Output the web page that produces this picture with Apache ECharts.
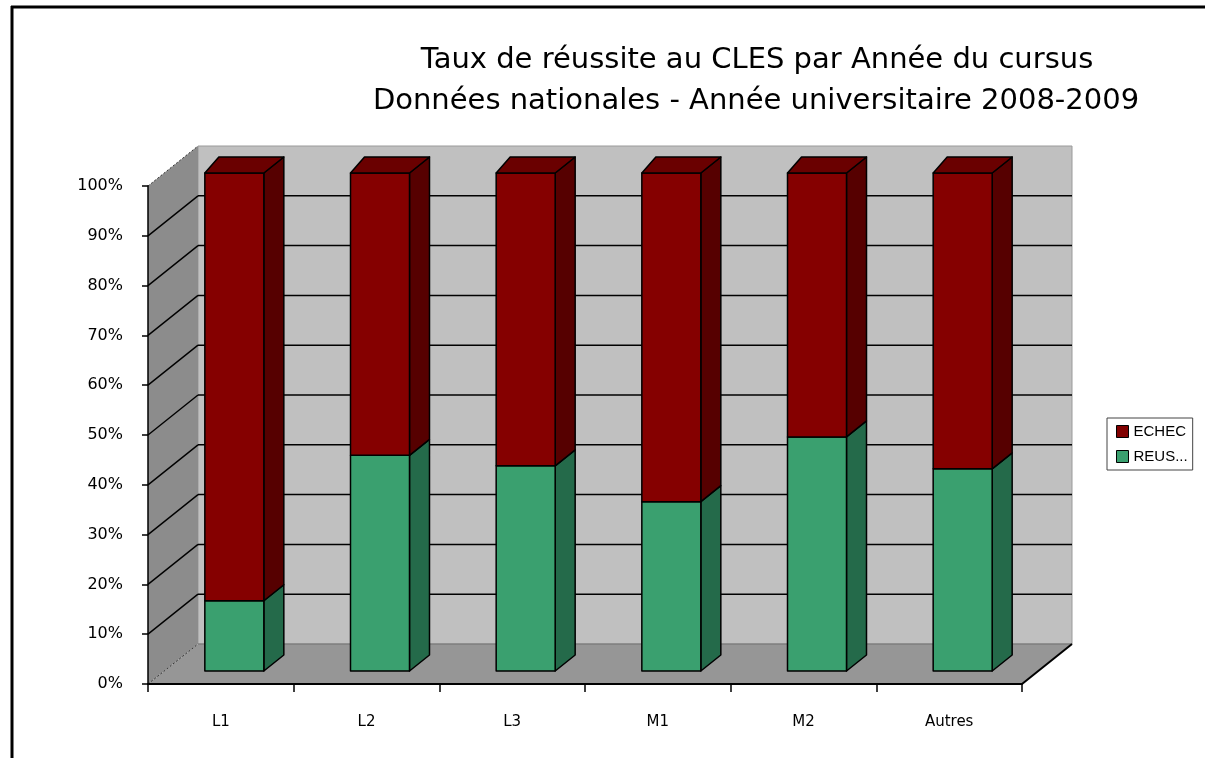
<!DOCTYPE html>
<html>
<head>
<meta charset="utf-8">
<script src="https://cdn.jsdelivr.net/npm/echarts@6/dist/echarts.min.js"></script>
<style>
  html, body { margin: 0; padding: 0; background: #fff; }
  #chart { width: 1205px; height: 758px; }
</style>
</head>
<body>
<div id="chart"></div>
<script>
const categories = ["L1", "L2", "L3", "M1", "M2", "Autres"];
const reussite = [14.1, 43.3, 41.2, 34.0, 47.0, 40.6];
const echec = [85.9, 56.7, 58.8, 66.0, 53.0, 59.4];
const yTicks = [0, 10, 20, 30, 40, 50, 60, 70, 80, 90, 100];

const FONT = '"DejaVu Sans", sans-serif';
const WALL = [50, -40]; // depth of the room
const chart = echarts.init(document.getElementById("chart"));

function line(x1, y1, x2, y2, style) {
  return { type: "line", shape: { x1, y1, x2, y2 }, style: Object.assign({ stroke: "#000", lineWidth: 1.5 }, style) };
}

function renderRoom(params, api) {
  const cs = params.coordSys;
  const x0 = cs.x, x1 = cs.x + cs.width;
  const yb = api.coord([0, 0])[1], yt = api.coord([0, 100])[1];
  const [dx, dy] = WALL;
  const kids = [];
  kids.push({ type: "rect", shape: { x: x0 + dx, y: yt + dy, width: cs.width, height: yb - yt }, style: { fill: "#c0c0c0", stroke: "#9a9a9a", lineWidth: 1 } });
  kids.push({ type: "polygon", shape: { points: [[x0, yb], [x1, yb], [x1 + dx, yb + dy], [x0 + dx, yb + dy]] }, style: { fill: "#969696" } });
  kids.push({ type: "polygon", shape: { points: [[x0, yb], [x0, yt], [x0 + dx, yt + dy], [x0 + dx, yb + dy]] }, style: { fill: "#8c8c8c" } });
  yTicks.forEach((v) => {
    const y = api.coord([0, v])[1];
    if (v === 0 || v === 100) {
      kids.push(line(x0, y, x0 + dx, y + dy, { lineWidth: 1, lineDash: [2, 2], stroke: "#333" }));
    } else {
      kids.push(line(x0, y, x0 + dx, y + dy));
      kids.push(line(x0 + dx, y + dy, x1 + dx, y + dy));
    }
  });
  kids.push(line(x0 + dx, yb + dy, x1 + dx, yb + dy, { stroke: "#707070", lineWidth: 1 }));
  kids.push(line(x1, yb, x1 + dx, yb + dy, { lineWidth: 2 }));
  return { type: "group", children: kids };
}

function makeBarRenderer(front, side, top) {
  return function (params, api) {
    const i = api.value(0), lo = api.value(1), hi = api.value(2), cap = api.value(3);
    const base = api.coord([i, lo]), head = api.coord([i, hi]);
    const band = api.size([1, 0])[0];
    const w = band * 0.405;
    const fx0 = base[0] - w / 2 + 13.5, fx1 = fx0 + w;
    const yb = base[1] - 13, yt = head[1] - 13;
    const sdx = 20, sdy = -16, ldx = 14;
    const st = { stroke: "#000", lineWidth: 1.5, lineJoin: "round" };
    const kids = [
      { type: "polygon", shape: { points: [[fx1, yb], [fx1, yt], [fx1 + sdx, yt + sdy], [fx1 + sdx, yb + sdy]] }, style: Object.assign({ fill: side }, st) },
      { type: "rect", shape: { x: fx0, y: yt, width: w, height: yb - yt }, style: Object.assign({ fill: front }, st) }
    ];
    if (cap) {
      kids.push({ type: "polygon", shape: { points: [[fx0, yt], [fx0 + ldx, yt + sdy], [fx1 + sdx, yt + sdy], [fx1, yt]] }, style: Object.assign({ fill: top }, st) });
    }
    return { type: "group", children: kids };
  };
}

chart.setOption({
  animation: false,
  graphic: [
    { type: "line", shape: { x1: 11, y1: 7, x2: 1205, y2: 7 }, style: { stroke: "#000", lineWidth: 3 } },
    { type: "line", shape: { x1: 12, y1: 6, x2: 12, y2: 758 }, style: { stroke: "#000", lineWidth: 3 } },
    { type: "text", x: 757, y: 60, style: { text: "Taux de réussite au CLES par Année du cursus", font: "29px " + FONT, fill: "#000", align: "center", verticalAlign: "middle" } },
    { type: "text", x: 756, y: 101, style: { text: "Données nationales - Année universitaire 2008-2009", font: "29px " + FONT, fill: "#000", align: "center", verticalAlign: "middle" } }
  ],
  legend: {
    data: ["ECHEC", "REUSSITE"],
    orient: "vertical",
    left: 1107,
    top: 418,
    padding: [6, 5, 6, 9],
    itemGap: 10,
    itemWidth: 12,
    itemHeight: 12,
    icon: "rect",
    borderColor: "#444",
    borderWidth: 1,
    backgroundColor: "#fff",
    selectedMode: false,
    formatter: (n) => (n === "REUSSITE" ? "REUS..." : n),
    itemStyle: { borderColor: "#000", borderWidth: 1 },
    textStyle: { fontFamily: '"Liberation Sans Narrow", "Liberation Sans", sans-serif', fontSize: 15, color: "#000" }
  },
  grid: { left: 148, top: 186, width: 874, height: 498, containLabel: false },
  xAxis: {
    type: "category",
    data: categories,
    z: 5,
    axisLine: { lineStyle: { color: "#000", width: 2 } },
    axisTick: { show: true, length: 8, lineStyle: { color: "#000", width: 1.5 } },
    axisLabel: { margin: 31, fontFamily: FONT, fontSize: 15, color: "#000" },
    splitLine: { show: false }
  },
  yAxis: {
    type: "value",
    min: 0,
    max: 100,
    interval: 10,
    z: 5,
    axisLine: { show: true, lineStyle: { color: "#000", width: 1.5 } },
    axisTick: { show: true, length: 6, lineStyle: { color: "#000", width: 1.5 } },
    axisLabel: { margin: 25, formatter: "{value}%", fontFamily: FONT, fontSize: 16, color: "#000" },
    splitLine: { show: false }
  },
  series: [
    {
      type: "custom",
      name: "room",
      silent: true,
      z: 1,
      renderItem: renderRoom,
      data: [[0, 0]]
    },
    {
      type: "custom",
      name: "REUSSITE",
      z: 3,
      itemStyle: { color: "#3aa06f" },
      renderItem: makeBarRenderer("#3aa06f", "#246a4a", "#2f8a5e"),
      data: categories.map((c, i) => [i, 0, reussite[i], 0])
    },
    {
      type: "custom",
      name: "ECHEC",
      z: 3,
      itemStyle: { color: "#800000" },
      renderItem: makeBarRenderer("#850000", "#560000", "#6a0000"),
      data: categories.map((c, i) => [i, reussite[i], reussite[i] + echec[i], 1])
    }
  ]
});
</script>
</body>
</html>
